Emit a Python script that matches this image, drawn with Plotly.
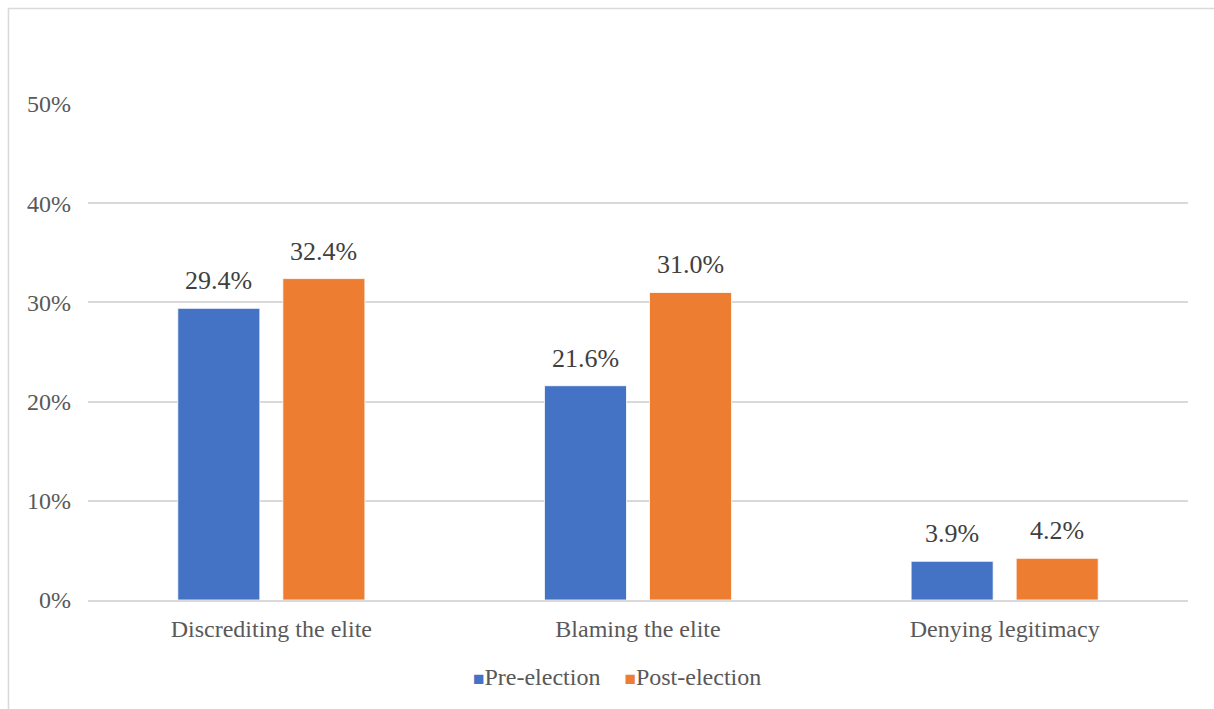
import plotly.graph_objects as go

categories = ["Discrediting the elite", "Blaming the elite", "Denying legitimacy"]
pre_election = [0.294, 0.216, 0.039]
post_election = [0.324, 0.310, 0.042]
series_names = ["Pre-election", "Post-election"]
colors = ["#4472C4", "#ED7D31"]
y_ticks = [0, 0.1, 0.2, 0.3, 0.4, 0.5]
y_tick_labels = ["0%", "10%", "20%", "30%", "40%", "50%"]

FONT = "Liberation Serif"

fig = go.Figure()
for name, vals, col in zip(series_names, [pre_election, post_election], colors):
    fig.add_trace(go.Bar(
        x=categories, y=vals, name=name,
        marker=dict(color=col, line=dict(color="white", width=0.8)),
        showlegend=False,
        cliponaxis=False,
    ))

# data labels above bars
slot_shift = 0.5 * (1 - 0.427) / 2
for k, vals in enumerate([pre_election, post_election]):
    for i, v in enumerate(vals):
        fig.add_annotation(
            x=i + (-slot_shift if k == 0 else slot_shift), y=v,
            xref="x", yref="y",
            text=f"{v*100:.1f}%", showarrow=False,
            yanchor="bottom", yshift=11,
            font=dict(family=FONT, size=26, color="#404040"),
        )

# legend drawn as a text row
legend_text = "    ".join(
    f"<span style='color:{c};font-size:19px'>■</span>{n}" for n, c in zip(series_names, colors)
)
fig.add_annotation(
    x=0.481, y=-0.155, xref="paper", yref="paper", showarrow=False,
    xanchor="center", yanchor="middle",
    text=legend_text, font=dict(family=FONT, size=24, color="#595959"),
)

fig.update_layout(
    width=1214, height=709,
    margin=dict(l=88, r=26, t=104, b=109),
    paper_bgcolor="white", plot_bgcolor="white",
    barmode="group", bargap=0.427, bargroupgap=0.219,
    font=dict(family=FONT, size=24, color="#595959"),
    showlegend=False,
)
fig.update_yaxes(range=[0, 0.5], tickvals=y_ticks, ticktext=y_tick_labels,
                 showgrid=True, gridcolor="#D9D9D9", gridwidth=1.5,
                 zeroline=False, showline=False, ticks="", automargin=False,
                 ticklabelstandoff=16,
                 tickfont=dict(family=FONT, size=24, color="#595959"))
fig.update_xaxes(showline=True, linecolor="#D9D9D9", linewidth=1.5, ticks="",
                 automargin=False, ticklabelstandoff=6,
                 tickfont=dict(family=FONT, size=24, color="#595959"))

fig.add_shape(type="rect", xref="paper", yref="paper",
              x0=-0.0723, y0=-0.5, x1=1.2, y1=1.1925,
              line=dict(color="#D9D9D9", width=1.5), fillcolor="rgba(0,0,0,0)",
              layer="below")

fig.write_html("out.html")
